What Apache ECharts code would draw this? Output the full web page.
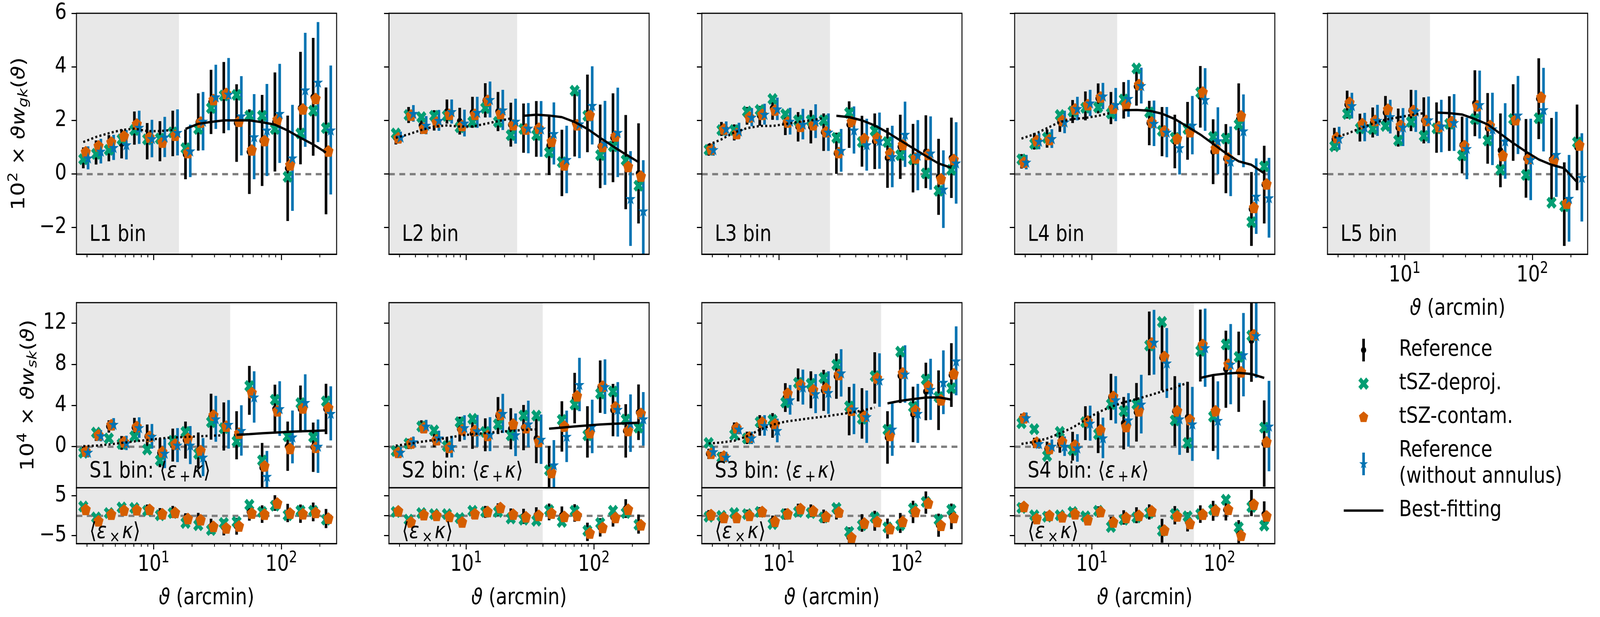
<!DOCTYPE html>
<html><head><meta charset="utf-8">
<script src="https://cdn.jsdelivr.net/npm/echarts@6.0.0/dist/echarts.min.js"></script>
<style>html,body{margin:0;padding:0;background:#fff;overflow:hidden}
#wrap{position:relative;overflow:hidden;background:#fff}
#c{position:absolute;left:0;top:0;width:4920px;height:1580px;transform-origin:0 0}</style>
</head><body><div id="wrap"><div id="c"></div></div><script>
// ---------------- data ----------------
const theta = [2.818, 3.548, 4.467, 5.623, 7.079, 8.913, 11.22, 14.13, 17.78, 22.39, 28.18, 35.48, 44.67, 56.23, 70.79, 89.13, 112.2, 141.3, 177.8, 223.9];
const majorTicks = [10, 100];
const minorTicks = [3, 4, 5, 6, 7, 8, 9, 20, 30, 40, 50, 60, 70, 80, 90, 200];
const gkTicks = [-2, 0, 2, 4, 6];
const skTicks = [0, 4, 8, 12];
const crossTicks = [-5, 0, 5];
const L_cut = [15.8, 25.1, 25.1, 15.8, 15.8];
const S_cut = [39.8, 39.8, 63.1, 63.1];
const L_labels = ['L1 bin', 'L2 bin', 'L3 bin', 'L4 bin', 'L5 bin'];
const S_labels = ['S1 bin: ', 'S2 bin: ', 'S3 bin: ', 'S4 bin: '];

const L1_ref = [0.6, 0.8, 0.96, 1.12, 1.71, 1.22, 1.22, 1.51, 0.73, 1.94, 2.69, 2.85, 1.9, 0.83, 1.25, 1.94, 0.21, 2.46, 2.88, 0.86];
const L1_refErr = [0.39, 0.45, 0.49, 0.54, 0.62, 0.68, 0.75, 0.85, 0.93, 1.07, 1.2, 1.33, 1.45, 1.58, 1.7, 1.85, 1.97, 2.1, 2.2, 2.37];
const L1_deproj = [0.55, 0.75, 0.9, 1.29, 1.64, 1.29, 1.32, 1.55, 0.96, 1.68, 2.46, 2.93, 2.95, 2.17, 2.17, 1.68, -0.11, 1.51, 2.36, 1.71];
const L1_contam = [0.83, 1.05, 1.19, 1.42, 1.87, 1.38, 1.19, 1.45, 0.8, 1.94, 2.78, 3.01, 1.97, 0.9, 1.25, 2.03, 0.34, 2.43, 2.82, 0.86];
const L1_noAnn = [0.6, 0.85, 0.99, 1.09, 1.74, 1.32, 1.38, 1.55, 0.86, 1.97, 2.88, 2.98, 2.17, 1.39, 1.64, 2.26, 0.6, 3.14, 3.43, 1.64];
const L1_noAnnErr = [0.43, 0.46, 0.47, 0.55, 0.62, 0.7, 0.75, 0.86, 0.98, 1.09, 1.2, 1.35, 1.48, 1.59, 1.72, 1.85, 1.98, 2.13, 2.24, 2.41];
const L1_model = [1.19, 1.38, 1.52, 1.64, 1.69, 1.6, 1.6, 1.64, 1.68, 1.87, 1.94, 2.0, 2.0, 2.0, 1.93, 1.84, 1.62, 1.35, 1.1, 0.8];

const L2_ref = [1.35, 2.2, 1.81, 2.0, 2.33, 1.97, 2.3, 2.75, 2.33, 1.84, 1.71, 1.68, 1.06, 0.41, 1.9, 2.26, 1.03, 1.35, 0.44, 0.02];
const L2_refErr = [0.25, 0.3, 0.32, 0.38, 0.45, 0.5, 0.58, 0.64, 0.73, 0.82, 0.92, 1.04, 1.1, 1.24, 1.25, 1.45, 1.56, 1.66, 1.76, 1.87];
const L2_deproj = [1.51, 2.2, 2.12, 2.17, 2.17, 1.74, 1.94, 2.46, 1.94, 1.45, 1.68, 1.45, 0.8, 0.44, 3.11, 2.17, 0.7, 1.03, 0.51, -0.44];
const L2_contam = [1.35, 2.2, 1.71, 1.94, 2.23, 1.81, 2.23, 2.75, 2.26, 1.84, 1.68, 1.71, 1.22, 0.34, 1.84, 2.2, 1.03, 1.42, 0.28, -0.08];
const L2_noAnn = [1.38, 2.26, 1.82, 2.0, 2.33, 1.9, 2.3, 2.78, 2.39, 1.97, 1.71, 1.68, 1.51, 0.54, 1.87, 2.56, 1.16, 1.55, -0.92, -1.38];
const L2_noAnnErr = [0.2, 0.31, 0.34, 0.39, 0.45, 0.5, 0.58, 0.67, 0.75, 0.84, 0.94, 1.04, 1.16, 1.26, 1.28, 1.46, 1.57, 1.67, 1.77, 1.89];
const L2_model = [1.35, 1.48, 1.64, 1.77, 1.81, 1.77, 1.77, 1.87, 1.97, 2.07, 2.17, 2.21, 2.18, 2.12, 1.94, 1.68, 1.35, 1.03, 0.73, 0.44];

const L3_ref = [0.9, 1.68, 1.55, 2.17, 2.17, 2.46, 1.9, 1.76, 1.76, 1.56, 0.77, 1.84, 1.22, 1.22, 0.6, 1.01, 0.59, 0.83, -0.11, 0.6];
const L3_refErr = [0.22, 0.26, 0.3, 0.33, 0.37, 0.44, 0.45, 0.55, 0.62, 0.7, 0.77, 0.87, 0.95, 1.04, 1.12, 1.2, 1.28, 1.36, 1.42, 1.5];
const L3_deproj = [0.9, 1.64, 1.64, 2.33, 2.39, 2.8, 2.23, 2.0, 2.0, 2.0, 1.35, 2.28, 1.19, 1.61, 1.19, 0.7, 0.54, 0.02, -0.63, 0.15];
const L3_contam = [0.93, 1.68, 1.51, 2.13, 2.23, 2.39, 1.94, 1.78, 1.84, 1.58, 0.8, 1.96, 1.32, 1.35, 0.77, 1.1, 0.6, 0.73, -0.18, 0.54];
const L3_noAnn = [0.91, 1.69, 1.61, 2.12, 2.23, 2.43, 1.97, 1.86, 1.97, 1.56, 0.88, 1.64, 1.09, 1.24, 0.65, 1.48, 0.7, 0.78, -0.57, 0.41];
const L3_noAnnErr = [0.23, 0.27, 0.3, 0.34, 0.39, 0.42, 0.5, 0.57, 0.63, 0.7, 0.8, 0.88, 0.97, 1.05, 1.15, 1.22, 1.31, 1.37, 1.45, 1.52];
const L3_model = [1.09, 1.29, 1.55, 1.71, 1.79, 1.79, 1.86, 1.94, 2.0, 2.09, 2.17, 2.12, 2.0, 1.81, 1.55, 1.25, 0.96, 0.67, 0.39, 0.23];

const L4_ref = [0.47, 1.22, 1.32, 1.94, 2.33, 2.54, 2.82, 2.46, 2.75, 3.27, 1.9, 1.58, 1.21, 1.61, 2.88, 0.83, 0.57, 2.04, -1.31, -0.4];
const L4_refErr = [0.27, 0.31, 0.34, 0.37, 0.43, 0.54, 0.56, 0.6, 0.68, 0.72, 0.83, 0.92, 1.0, 1.08, 1.15, 1.21, 1.29, 1.34, 1.38, 1.45];
const L4_deproj = [0.54, 1.12, 1.35, 2.2, 2.33, 2.47, 2.49, 2.26, 2.78, 3.94, 2.3, 1.61, 1.35, 1.68, 3.04, 1.38, 1.32, 1.84, -1.8, 0.28];
const L4_contam = [0.44, 1.25, 1.29, 2.0, 2.43, 2.59, 2.88, 2.46, 2.59, 3.34, 1.94, 1.61, 1.32, 1.58, 3.06, 0.96, 0.6, 2.17, -1.25, -0.37];
const L4_noAnn = [0.44, 1.22, 1.32, 1.94, 2.44, 2.65, 2.91, 2.59, 2.82, 3.3, 1.89, 1.56, 0.98, 1.82, 2.78, 1.24, 0.47, 1.61, -0.83, -0.89];
const L4_noAnnErr = [0.27, 0.3, 0.35, 0.42, 0.44, 0.49, 0.49, 0.62, 0.69, 0.67, 0.85, 0.94, 1.0, 1.09, 1.17, 1.25, 1.3, 1.36, 1.41, 1.49];
const L4_model = [1.32, 1.48, 1.71, 1.94, 2.05, 2.09, 2.17, 2.28, 2.38, 2.39, 2.36, 2.25, 2.05, 1.76, 1.47, 1.12, 0.77, 0.47, 0.34, 0.02];

const L5_ref = [1.3, 2.59, 1.73, 1.92, 2.29, 1.73, 2.37, 2.0, 1.73, 1.88, 1.08, 2.64, 1.7, 0.88, 1.92, 0.58, 2.81, 0.54, -1.13, 0.99];
const L5_refErr = [0.42, 0.52, 0.52, 0.56, 0.62, 0.71, 0.77, 0.86, 0.94, 1.02, 1.06, 1.23, 1.32, 1.38, 1.43, 1.47, 1.51, 1.55, 1.56, 1.6];
const L5_deproj = [1.03, 2.24, 1.7, 1.68, 1.79, 1.25, 1.94, 1.42, 1.7, 1.87, 0.69, 2.05, 1.25, 0.15, 2.05, -0.04, 2.08, -1.08, -1.21, 1.18];
const L5_contam = [1.36, 2.67, 1.88, 2.0, 2.42, 1.82, 2.37, 2.0, 1.77, 1.96, 1.06, 2.55, 1.81, 0.69, 2.03, 0.58, 2.87, 0.51, -1.09, 1.08];
const L5_noAnn = [1.33, 2.55, 1.75, 2.0, 2.14, 1.75, 2.35, 2.02, 1.79, 1.92, 0.95, 2.59, 1.68, 1.23, 2.2, 0.54, 2.4, 0.73, -0.91, -0.13];
const L5_noAnnErr = [0.43, 0.48, 0.53, 0.58, 0.63, 0.71, 0.78, 0.87, 0.98, 1.06, 1.15, 1.27, 1.35, 1.41, 1.46, 1.52, 1.56, 1.59, 1.62, 1.65];
const L5_model = [1.36, 1.5, 1.7, 1.88, 2.03, 2.11, 2.2, 2.27, 2.29, 2.27, 2.22, 2.05, 1.85, 1.5, 1.15, 0.83, 0.54, 0.34, 0.21, -0.31];

const S1_ref = [-0.49, 1.1, 1.96, 0.36, 1.85, 1.0, -0.6, 0.15, 0.64, -0.38, 2.91, 1.96, 1.1, 5.47, -2.04, 3.66, 0.04, 3.66, -0.06, 3.66];
const S1_refErr = [0.5, 0.55, 0.6, 0.67, 0.95, 1.15, 1.4, 1.6, 1.8, 1.75, 2.23, 2.34, 2.34, 2.38, 2.4, 2.37, 2.4, 2.28, 2.4, 2.45];
const S1_deproj = [-0.6, 1.36, 0.79, 0.26, 1.0, -0.28, -1.34, 0.57, 1.43, -0.7, 2.38, 1.79, 0.51, 5.89, -1.34, 4.55, 1.0, 4.23, 0.94, 4.4];
const S1_contam = [-0.43, 1.15, 2.13, 0.47, 1.96, 1.0, -0.49, 0.26, 0.79, -0.38, 3.06, 2.0, 1.32, 5.26, -1.87, 3.49, -0.17, 3.77, -0.06, 3.77];
const S1_noAnn = [-0.55, 1.06, 2.17, 0.36, 1.85, 1.0, -0.64, 0.15, 0.15, -1.02, 2.7, 2.17, 1.57, 4.83, -2.89, 3.7, 0.94, 4.3, 0.04, 3.23];
const S1_noAnnErr = [0.5, 0.55, 0.6, 0.7, 1.0, 1.2, 1.45, 1.65, 1.85, 1.85, 2.23, 2.36, 2.45, 2.5, 2.47, 2.66, 2.57, 2.73, 2.6, 2.63];
const S1_model = [0.04, 0.09, 0.21, 0.36, 0.51, 0.64, 0.79, 0.89, 0.94, 1.0, 1.06, 1.1, 1.15, 1.21, 1.3, 1.36, 1.43, 1.49, 1.53, 1.57];
const S1_xRef = [1.8, -1.0, 0.5, 1.5, 1.5, 1.5, 0.5, 0.94, -1.0, -1.0, -2.67, -2.94, -2.67, 0.94, 0.39, 3.17, 0.67, 0.5, 0.94, -0.72];
const S1_xErr = [1.0, 1.0, 1.05, 1.1, 1.2, 1.3, 1.4, 1.5, 1.6, 1.7, 1.9, 2.0, 2.1, 2.2, 2.2, 1.95, 2.3, 2.3, 2.35, 2.4];
const S1_xDeproj = [2.3, -0.44, 0.67, 2.06, 1.94, 1.22, 0.11, 0.67, -1.83, -2.39, -3.6, -1.83, -1.56, 2.72, 0.94, 2.5, 0.11, 1.22, 1.22, -1.0];
const S1_xContam = [1.6, -1.28, 0.39, 1.39, 1.5, 1.6, 0.5, 0.83, -0.72, -1.0, -2.67, -3.05, -2.56, 0.67, 0.39, 3.17, 0.67, 0.5, 0.83, -0.61];

const S2_ref = [-0.49, 0.26, 1.96, 0.64, -0.06, 1.7, 1.28, 1.15, 3.02, 1.74, 1.85, 0.79, -2.26, 1.96, 4.72, 1.43, 5.83, 3.55, 1.53, 3.34];
const S2_refErr = [0.5, 0.5, 0.6, 0.7, 1.0, 1.2, 1.5, 1.6, 1.8, 2.0, 2.2, 2.4, 2.3, 2.45, 2.45, 2.5, 2.55, 2.55, 2.6, 2.7];
const S2_deproj = [-0.43, 0.3, 1.96, 1.57, 0.04, 2.38, 2.7, 1.43, 2.17, 1.1, 3.02, 3.02, -2.3, 2.6, 4.09, 1.1, 5.15, 5.36, 2.64, 1.85];
const S2_contam = [-0.55, 0.36, 1.85, 0.68, -0.06, 1.64, 1.57, 1.1, 3.13, 2.21, 1.85, 0.51, -2.51, 2.0, 4.94, 1.36, 5.89, 3.87, 1.57, 3.23];
const S2_noAnn = [-0.55, 0.47, 2.0, 0.85, 0.0, 1.85, 1.53, 1.21, 3.23, 1.15, 2.21, 0.72, -1.77, 1.0, 6.04, 1.96, 5.83, 3.62, 2.28, 2.7];
const S2_noAnnErr = [0.5, 0.5, 0.6, 0.7, 1.05, 1.2, 1.55, 1.65, 1.9, 2.07, 2.26, 2.4, 2.4, 2.5, 2.6, 2.6, 2.65, 2.65, 2.8, 2.6];
const S2_model = [0.09, 0.26, 0.47, 0.64, 0.85, 1.06, 1.21, 1.32, 1.43, 1.53, 1.62, 1.68, 1.74, 1.85, 1.96, 2.06, 2.15, 2.22, 2.27, 2.32];
const S2_xRef = [0.94, -1.28, 0.39, 0.11, -0.06, -1.0, 0.67, 0.94, 1.5, 0.11, -0.17, 0.11, 0.94, 0.11, 0.67, -4.06, -2.94, -0.44, 1.78, -2.11];
const S2_xErr = [1.0, 1.0, 1.05, 1.1, 1.2, 1.3, 1.4, 1.5, 1.6, 1.7, 1.9, 2.0, 2.1, 2.2, 2.2, 2.3, 2.3, 2.3, 2.35, 2.4];
const S2_xDeproj = [0.94, -1.0, 0.67, 0.39, 0.39, -0.61, 1.22, 0.94, 0.94, -0.72, -1.0, -1.28, 1.39, -1.56, 1.22, -3.78, -1.83, 1.22, 0.67, -2.28];
const S2_xContam = [1.22, -1.56, 0.28, 0.11, -0.17, -1.56, 0.5, 1.06, 2.06, 0.39, -0.28, 0.11, 0.67, -0.17, 0.11, -4.33, -2.94, -0.44, 1.61, -2.28];

const S3_ref = [-0.7, -1.02, 1.85, 0.85, 2.06, 2.06, 4.77, 6.0, 5.53, 5.47, 6.85, 3.45, 3.23, 6.68, 0.89, 6.89, 3.13, 5.36, 4.51, 6.96];
const S3_refErr = [0.5, 0.5, 0.5, 0.6, 1.0, 1.2, 1.4, 1.6, 1.8, 2.0, 2.2, 2.35, 2.45, 2.5, 2.55, 2.65, 2.7, 2.8, 2.9, 3.1];
const S3_deproj = [0.36, -1.06, 1.15, 0.79, 2.38, 2.6, 4.3, 6.21, 6.11, 6.68, 7.96, 3.91, 2.7, 6.85, 1.64, 9.23, 3.87, 6.53, 4.83, 5.68];
const S3_contam = [-0.64, -0.91, 1.85, 0.94, 2.38, 2.21, 5.19, 6.04, 5.53, 5.68, 7.02, 3.55, 2.98, 6.68, 1.1, 7.17, 3.55, 5.89, 4.55, 7.1];
const S3_noAnn = [-0.49, -1.02, 1.7, 0.85, 2.06, 1.57, 4.55, 5.79, 5.15, 5.26, 7.17, 3.66, 2.91, 6.47, 1.7, 7.06, 3.23, 5.57, 6.26, 8.34];
const S3_noAnnErr = [0.5, 0.5, 0.5, 0.6, 1.0, 1.15, 1.44, 1.7, 1.9, 2.07, 2.3, 2.45, 2.55, 2.6, 2.6, 2.79, 2.87, 2.97, 3.1, 3.35];
const S3_model = [0.3, 0.4, 0.57, 1.0, 1.64, 2.13, 2.43, 2.6, 2.77, 2.91, 3.1, 3.28, 3.5, 3.8, 4.2, 4.45, 4.62, 4.77, 4.79, 4.57];
const S3_xRef = [0.39, -0.44, -0.17, 0.39, 0.94, -1.28, 0.39, 1.5, 1.22, -0.17, 0.94, -5.44, -1.83, -1.28, -3.22, -1.83, 0.94, 3.28, -2.39, -0.17];
const S3_xErr = [1.0, 1.0, 1.05, 1.1, 1.2, 1.3, 1.4, 1.5, 1.6, 1.7, 1.9, 2.5, 2.2, 2.5, 2.5, 2.5, 2.8, 2.8, 2.9, 3.2];
const S3_xDeproj = [-0.28, -0.06, 0.67, 0.39, 0.94, -2.11, 0.39, 0.94, 0.67, -0.44, 1.94, -4.06, -2.39, -0.44, -2.94, -2.39, 1.78, 3.44, -1.0, 1.5];
const S3_xContam = [0.28, -0.44, -0.44, 0.11, 1.06, -1.39, 0.5, 1.78, 1.22, -0.17, 0.94, -5.44, -1.83, -1.44, -3.22, -1.44, 1.06, 3.17, -2.39, -0.44];

const S4_ref = [2.7, 0.36, -0.17, 0.3, 0.04, 2.28, 1.32, 4.83, 2.28, 3.34, 10.04, 8.66, 3.45, 2.85, 9.83, 3.23, 7.53, 7.28, 10.3, 0.3];
const S4_refErr = [0.5, 0.5, 0.65, 0.9, 1.4, 1.65, 1.95, 2.25, 2.55, 2.85, 3.1, 3.2, 3.4, 3.45, 3.5, 3.65, 3.75, 3.9, 4.0, 4.2];
const S4_deproj = [2.28, 1.7, -0.91, 1.43, -0.34, 2.38, 1.21, 4.13, 3.45, 4.13, 9.83, 12.13, 2.55, 0.36, 9.3, 2.91, 9.94, 8.72, 10.79, 1.85];
const S4_contam = [2.81, 0.43, -0.17, 0.51, 0.15, 2.49, 1.64, 4.89, 1.96, 3.49, 10.09, 8.77, 3.49, 2.64, 9.94, 3.49, 8.02, 7.28, 10.89, 0.47];
const S4_noAnn = [2.81, 0.3, 0.04, 0.04, -0.13, 2.28, 0.85, 4.55, 2.6, 4.13, 10.15, 8.13, 2.7, 2.21, 9.62, 2.55, 8.02, 8.94, 10.79, 2.0];
const S4_noAnnErr = [0.5, 0.5, 0.65, 0.95, 1.34, 1.7, 1.97, 2.3, 2.6, 2.85, 3.15, 3.4, 3.5, 3.6, 3.8, 3.8, 3.9, 4.05, 4.1, 4.4];
const S4_model = [0.26, 0.47, 0.79, 1.28, 1.85, 2.6, 3.34, 3.87, 4.3, 4.62, 4.98, 5.36, 5.74, 6.21, 6.68, 6.96, 7.11, 7.17, 7.06, 6.68];
const S4_xRef = [2.17, -0.17, -0.06, -0.17, 0.67, -0.61, 0.94, -1.83, -0.44, 0.11, 0.94, -3.78, 0.11, -1.56, 0.39, 1.22, 1.5, -4.33, 3.17, 0.39];
const S4_xErr = [1.0, 1.0, 1.05, 1.1, 1.2, 1.3, 1.4, 1.5, 1.8, 2.0, 1.9, 3.0, 2.3, 2.4, 2.2, 2.5, 2.7, 3.2, 3.3, 3.2];
const S4_xDeproj = [1.94, 0.11, -0.28, 0.11, 0.94, -0.17, 1.22, -2.83, -1.0, -0.44, 0.67, -3.78, 0.39, -0.17, 0.39, 1.5, 4.0, -2.94, 2.17, -2.5];
const S4_xContam = [2.33, -0.72, 0.11, -0.28, 0.5, -1.0, 1.06, -1.56, -0.44, 0.11, 1.22, -3.61, -0.06, -1.94, 0.39, 1.39, 1.61, -4.89, 2.89, -0.06];

// ---------------- style / layout ----------------
const FONT = 'DejaVu Sans';
const FS = 57;
const SFS = 40;
const COL = {ref: '#000000', dep: '#029e73', con: '#d55e00', noa: '#0173b2', shade: '#e8e8e8', zero: '#808080'};
const X_MIN = 2.49, X_MAX = 271;
const OFF = {ref: 1.0, dep: 1.0, con: 1.045, noa: 1.09};
const PANEL_LEFT = [235, 1196, 2158, 3120, 4082];
const PW = 800;
const TOP_Y = 34, TOP_H = 617;
const MAIN_Y = 775, MAIN_H = 474;
const SUB_Y = 1249, SUB_H = 143;

const SYM_X = 'path://M-0.5,-1L0,-0.5L0.5,-1L1,-0.5L0.5,0L1,0.5L0.5,1L0,0.5L-0.5,1L-1,0.5L-0.5,0L-1,-0.5Z';
const SYM_PENT = 'path://M0,-1L0.951,-0.309L0.588,0.809L-0.588,0.809L-0.951,-0.309Z';
const SYM_STAR = 'path://M0,-1L0.2245,-0.309L0.951,-0.309L0.363,0.118L0.588,0.809L0,0.382L-0.588,0.809L-0.363,0.118L-0.951,-0.309L-0.2245,-0.309Z';
const SIZE_X = [31, 31], SIZE_PENT = [31, 30], SIZE_STAR = [31, 30], SIZE_DOT = 17;

const topPanels = [
  {ref: L1_ref, refErr: L1_refErr, dep: L1_deproj, con: L1_contam, noa: L1_noAnn, noaErr: L1_noAnnErr, model: L1_model},
  {ref: L2_ref, refErr: L2_refErr, dep: L2_deproj, con: L2_contam, noa: L2_noAnn, noaErr: L2_noAnnErr, model: L2_model},
  {ref: L3_ref, refErr: L3_refErr, dep: L3_deproj, con: L3_contam, noa: L3_noAnn, noaErr: L3_noAnnErr, model: L3_model},
  {ref: L4_ref, refErr: L4_refErr, dep: L4_deproj, con: L4_contam, noa: L4_noAnn, noaErr: L4_noAnnErr, model: L4_model},
  {ref: L5_ref, refErr: L5_refErr, dep: L5_deproj, con: L5_contam, noa: L5_noAnn, noaErr: L5_noAnnErr, model: L5_model}
];
const sPanels = [
  {ref: S1_ref, refErr: S1_refErr, dep: S1_deproj, con: S1_contam, noa: S1_noAnn, noaErr: S1_noAnnErr, model: S1_model, xRef: S1_xRef, xErr: S1_xErr, xDep: S1_xDeproj, xCon: S1_xContam},
  {ref: S2_ref, refErr: S2_refErr, dep: S2_deproj, con: S2_contam, noa: S2_noAnn, noaErr: S2_noAnnErr, model: S2_model, xRef: S2_xRef, xErr: S2_xErr, xDep: S2_xDeproj, xCon: S2_xContam},
  {ref: S3_ref, refErr: S3_refErr, dep: S3_deproj, con: S3_contam, noa: S3_noAnn, noaErr: S3_noAnnErr, model: S3_model, xRef: S3_xRef, xErr: S3_xErr, xDep: S3_xDeproj, xCon: S3_xContam},
  {ref: S4_ref, refErr: S4_refErr, dep: S4_deproj, con: S4_contam, noa: S4_noAnn, noaErr: S4_noAnnErr, model: S4_model, xRef: S4_xRef, xErr: S4_xErr, xDep: S4_xDeproj, xCon: S4_xContam}
];

const richMath = {
  n: {fontSize: FS, fontFamily: FONT, color: '#000'},
  i: {fontSize: FS, fontFamily: FONT, color: '#000', fontStyle: 'italic'},
  sup: {fontSize: SFS, fontFamily: FONT, color: '#000', padding: [0, 0, 34, 0]},
  sub: {fontSize: SFS, fontFamily: FONT, color: '#000', fontStyle: 'italic', padding: [28, 0, 0, 0]}
};

const grids = [], xAxes = [], yAxes = [], series = [], graphics = [];
const tickLine = {color: '#000', width: 3};

function addPanel(p) {
  const gi = grids.length;
  grids.push({left: p.left, top: p.top, width: PW, height: p.height, containLabel: false, show: false});
  xAxes.push({
    gridIndex: gi, type: 'log', logBase: 10, min: X_MIN, max: X_MAX, position: 'bottom', offset: 0,
    axisLine: {show: true, onZero: false, lineStyle: {color: '#000', width: 3}},
    splitLine: {show: false},
    axisTick: {show: p.xTicks, customValues: majorTicks, length: 15, lineStyle: tickLine},
    axisLabel: {show: p.xLabels, customValues: majorTicks, margin: 18, hideOverlap: false,
      showMinLabel: true, showMaxLabel: true,
      formatter: v => '{b|10}{s|' + Math.round(Math.log10(v)) + '}',
      rich: {b: {fontSize: FS, fontFamily: FONT, color: '#000'}, s: {fontSize: SFS, fontFamily: FONT, color: '#000', padding: [0, 0, 34, 0]}}},
    name: p.xLabels ? '{i|\u03d1}{n| (arcmin)}' : '', nameLocation: 'middle', nameGap: 112,
    nameTextStyle: {fontSize: FS, fontFamily: FONT, color: '#000', rich: richMath}
  });
  xAxes.push({
    gridIndex: gi, type: 'log', logBase: 10, min: X_MIN, max: X_MAX, position: 'bottom', offset: 0,
    axisLine: {show: false, onZero: false}, splitLine: {show: false},
    axisTick: {show: p.xTicks, customValues: minorTicks, length: 8, lineStyle: {color: '#000', width: 2.5}},
    axisLabel: {show: false}
  });
  yAxes.push({
    gridIndex: gi, type: 'value', min: p.yMin, max: p.yMax, position: 'left',
    axisLine: {show: true, onZero: false, lineStyle: {color: '#000', width: 3}},
    splitLine: {show: false},
    axisTick: {show: true, customValues: p.yTicks, length: 15, lineStyle: tickLine},
    axisLabel: {show: p.yLabels, customValues: p.yTicks, margin: 30, fontSize: FS, fontFamily: FONT, color: '#000',
      lineHeight: 20, hideOverlap: false, showMinLabel: true, showMaxLabel: true,
      formatter: v => v < 0 ? '\u2212' + Math.abs(v) : String(v)},
    name: p.yName || '', nameLocation: 'middle', nameRotate: 90, nameGap: p.yNameGap || 0,
    nameTextStyle: {fontSize: FS, fontFamily: FONT, color: '#000', rich: richMath}
  });
  graphics.push({type: 'rect', z: 100, silent: true,
    shape: {x: p.left, y: p.top, width: PW, height: p.height},
    style: {fill: 'none', stroke: '#000', lineWidth: 3}});
  return gi;
}

function errSeries(name, color, gi, xs, ys, es, f, bg) {
  const s = {
    type: 'custom', name, xAxisIndex: 2 * gi, yAxisIndex: gi, clip: true, silent: true,
    itemStyle: {color}, encode: {x: 0, y: 1},
    data: xs.map((t, i) => [t * f, ys[i], es[i]]),
    renderItem(params, api) {
      const x = api.value(0), y = api.value(1), e = api.value(2);
      const a = api.coord([x, y - e]), b = api.coord([x, y + e]);
      return {type: 'line', shape: {x1: a[0], y1: a[1], x2: b[0], y2: b[1]}, style: {stroke: color, lineWidth: 8}};
    }
  };
  if (bg) {
    s.markArea = {silent: true, itemStyle: {color: COL.shade}, data: [[{xAxis: X_MIN}, {xAxis: bg.cut}]]};
    s.markLine = {silent: true, z: 1.5, symbol: ['none', 'none'], label: {show: false},
      lineStyle: {color: COL.zero, width: 6, type: [18, 14]}, data: [{yAxis: 0}]};
  }
  return s;
}
function scat(name, color, gi, xs, ys, f, symbol, size) {
  return {type: 'scatter', name, xAxisIndex: 2 * gi, yAxisIndex: gi, silent: true,
    data: xs.map((t, i) => [t * f, ys[i]]), symbol, symbolSize: size,
    itemStyle: {color, opacity: 1}};
}
function modelSeries(gi, model, cut) {
  const dotted = [], solid = [];
  theta.forEach((t, i) => (t < cut ? dotted : solid).push([t, model[i]]));
  const base = {type: 'line', name: 'Best-fitting', xAxisIndex: 2 * gi, yAxisIndex: gi, silent: true,
    symbol: 'none', showSymbol: false, itemStyle: {color: '#000'}};
  return [
    Object.assign({}, base, {data: dotted, lineStyle: {color: '#000', width: 6, type: [6, 7]}}),
    Object.assign({}, base, {data: solid, lineStyle: {color: '#000', width: 6, type: 'solid'}})
  ];
}
function addMainSeries(gi, d, cut) {
  series.push(errSeries('Reference', COL.ref, gi, theta, d.ref, d.refErr, OFF.ref, {cut}));
  modelSeries(gi, d.model, cut).forEach(s => series.push(s));
  series.push(scat('Reference', COL.ref, gi, theta, d.ref, OFF.ref, 'circle', SIZE_DOT));
  series.push(scat('tSZ-deproj.', COL.dep, gi, theta, d.dep, OFF.dep, SYM_X, SIZE_X));
  series.push(scat('tSZ-contam.', COL.con, gi, theta, d.con, OFF.con, SYM_PENT, SIZE_PENT));
  series.push(errSeries('Reference\n(without annulus)', COL.noa, gi, theta, d.noa, d.noaErr, OFF.noa));
  series.push(scat('Reference\n(without annulus)', COL.noa, gi, theta, d.noa, OFF.noa, SYM_STAR, SIZE_STAR));
}
function textEl(x, y, text, rich) {
  const style = {text, fontSize: FS, fontFamily: FONT, fill: '#000', align: 'left', verticalAlign: 'middle'};
  if (rich) style.rich = rich;
  return {type: 'text', x, y, z: 110, silent: true, style};
}
const richPanel = {
  t: {fontSize: FS, fontFamily: FONT, fill: '#000'},
  i: {fontSize: FS, fontFamily: FONT, fill: '#000', fontStyle: 'italic'},
  sb: {fontSize: SFS, fontFamily: FONT, fill: '#000', padding: [30, 6, 0, 8]}
};

// top row
topPanels.forEach((d, k) => {
  const gi = addPanel({left: PANEL_LEFT[k], top: TOP_Y, height: TOP_H, yMin: -3, yMax: 6, yTicks: gkTicks,
    yLabels: k === 0, xTicks: true, xLabels: k === 4,
    yName: k === 0 ? '{n|10}{sup|2}{n| \u00d7 }{i|\u03d1w}{sub|gk}{n|(}{i|\u03d1}{n|)}' : '', yNameGap: 138});
  addMainSeries(gi, d, L_cut[k]);
  graphics.push(textEl(PANEL_LEFT[k] + 40, 602, L_labels[k]));
});
// bottom rows
sPanels.forEach((d, k) => {
  const gi = addPanel({left: PANEL_LEFT[k], top: MAIN_Y, height: MAIN_H, yMin: -4, yMax: 14, yTicks: skTicks,
    yLabels: k === 0, xTicks: false, xLabels: false,
    yName: k === 0 ? '{n|10}{sup|4}{n| \u00d7 }{i|\u03d1w}{sub|sk}{n|(}{i|\u03d1}{n|)}' : '', yNameGap: 110});
  addMainSeries(gi, d, S_cut[k]);
  graphics.push(textEl(PANEL_LEFT[k] + 40, 1208, '{t|' + S_labels[k] + '\u27e8}{i|\u03b5}{sb|+}{i|\u03ba}{t|\u27e9}', richPanel));
  const gs = addPanel({left: PANEL_LEFT[k], top: SUB_Y, height: SUB_H, yMin: -7, yMax: 7, yTicks: crossTicks,
    yLabels: k === 0, xTicks: true, xLabels: true});
  series.push(errSeries('Reference', COL.ref, gs, theta, d.xRef, d.xErr, OFF.ref, {cut: S_cut[k]}));
  series.push(scat('Reference', COL.ref, gs, theta, d.xRef, OFF.ref, 'circle', SIZE_DOT));
  series.push(scat('tSZ-deproj.', COL.dep, gs, theta, d.xDep, OFF.dep, SYM_X, SIZE_X));
  series.push(scat('tSZ-contam.', COL.con, gs, theta, d.xCon, OFF.con, SYM_PENT, SIZE_PENT));
  graphics.push(textEl(PANEL_LEFT[k] + 40, 1363, '{t|\u27e8}{i|\u03b5}{sb|\u00d7}{i|\u03ba}{t|\u27e9}', richPanel));
});

const ICON_REF = 'path://M-4,-29L4,-29L4,29L-4,29Z M-8,0A8,8 0 1,1 8,0A8,8 0 1,1 -8,0Z';
const ICON_X = 'path://M0,-29 M0,29 M-8,-16L0,-8L8,-16L16,-8L8,0L16,8L8,16L0,8L-8,16L-16,8L-8,0L-16,-8Z';
const ICON_PENT = 'path://M0,-29 M0,29 M0,-15L14.27,-4.64L8.82,12.14L-8.82,12.14L-14.27,-4.64Z';
const ICON_STAR = 'path://M-4,-29L4,-29L4,29L-4,29Z M0,-14L3.14,-4.33L13.31,-4.33L5.08,1.65L8.23,11.33L0,5.35L-8.23,11.33L-5.08,1.65L-13.31,-4.33L-3.14,-4.33Z';
const ICON_LINE = 'path://M0,0L122,0L122,6L0,6Z';

const option = {
  backgroundColor: '#ffffff',
  animation: false,
  grid: grids, xAxis: xAxes, yAxis: yAxes, series,
  graphic: graphics,
  legend: {
    orient: 'vertical', left: 4132, top: 863, padding: 0,
    itemWidth: 122, itemHeight: 58, itemGap: 19, symbolKeepAspect: true, selectedMode: false,
    textStyle: {fontSize: FS, fontFamily: FONT, color: '#000', lineHeight: 67, padding: [0, 0, 0, 43]},
    data: [
      {name: 'Reference', icon: ICON_REF, itemStyle: {color: COL.ref, borderWidth: 0}},
      {name: 'tSZ-deproj.', icon: ICON_X, itemStyle: {color: COL.dep, borderWidth: 0}},
      {name: 'tSZ-contam.', icon: ICON_PENT, itemStyle: {color: COL.con, borderWidth: 0}},
      {name: 'Reference\n(without annulus)', icon: ICON_STAR, itemStyle: {color: COL.noa, borderWidth: 0}},
      {name: 'Best-fitting', icon: ICON_LINE, itemStyle: {color: '#000', borderWidth: 0}}
    ]
  }
};
const wrap = document.getElementById('wrap');
const box = document.getElementById('c');
const vw = window.innerWidth || document.documentElement.clientWidth || 4920;
const vh = window.innerHeight || document.documentElement.clientHeight || 1580;
const sx = vw / 4920, sy = vh / 1580;
wrap.style.width = vw + 'px';
wrap.style.height = vh + 'px';
box.style.transform = 'scale(' + sx + ',' + sy + ')';
const chart = echarts.init(box, null, {renderer: 'canvas', width: 4920, height: 1580});
chart.setOption(option);
</script></body></html>
